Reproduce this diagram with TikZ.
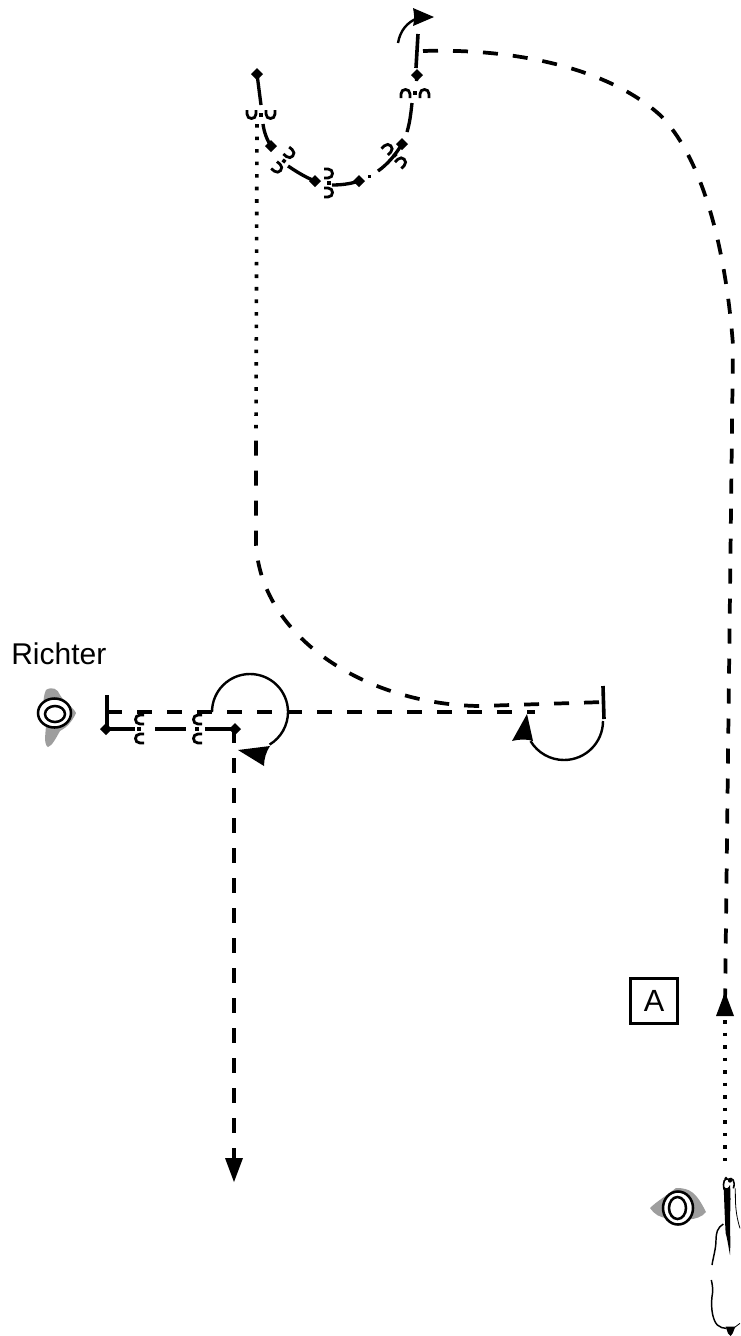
\documentclass[tikz,border=0pt]{standalone}
\usepackage{fontspec}
\setmainfont{Liberation Sans}
\tikzset{
  px/.style={x=0.75pt,y=-0.75pt},
  track/.style={line width=2.5pt,black},
  dashline/.style={line width=2.8pt,black,dash pattern=on 11.25pt off 11.25pt},
  dotline/.style={line width=2.7pt,black,dash pattern=on 2.7pt off 6.7pt},
  turn/.style={line width=1.8pt,black},
  halt/.style={line width=2.7pt,black},
  dia/.pic={\fill[black] (0,-6) -- (6,0) -- (0,6) -- (-6,0) -- cycle;},
  spurs/.pic={
    \draw[line width=2.1pt,black] (5,-14) -- (1,-14) .. controls (-5,-14) and (-5,-5) .. (1,-5) -- (5,-5);
    \draw[line width=2.1pt,black] (5,14) -- (1,14) .. controls (-5,14) and (-5,5) .. (1,5) -- (5,5);
    \fill[black] (-1.8,-1.8) rectangle (1.8,1.8);
  },
  eyering/.style={draw=black,line width=1.9pt,fill=white},
  blob/.style={fill=black!38,draw=none},
  hair/.style={line width=0.6pt,black},
  label/.style={font=\fontsize{22.5}{27}\selectfont,inner sep=0pt},
  boxlabel/.style={font=\fontsize{23}{27}\selectfont,draw=black,line width=2pt,minimum width=35pt,minimum height=34pt,inner sep=0pt},
}
\begin{document}
\begin{tikzpicture}[px]
\useasboundingbox (0,0) rectangle (740,1336);
% named points
\coordinate (s1) at (257,74); \coordinate (s2) at (271,146); \coordinate (s3) at (315,181);
\coordinate (s4) at (359,181); \coordinate (s5) at (402,144); \coordinate (s6) at (417,75);
\coordinate (h1a) at (416,68); \coordinate (h1b) at (418,34);
\coordinate (l1) at (106,729); \coordinate (l2) at (235,729);
% top track
\draw[track] (s1) -- (261,105);
\draw[track] (263,124) .. controls (264,132) and (267,140) .. (s2);
\draw[track] (288,166) .. controls (297,172) and (305,177) .. (s3);
\draw[track] (332,185) .. controls (341,185) and (350,184) .. (s4);
\fill[black] (368,174.5) rectangle (371,177.5);
\draw[track] (378,171) .. controls (388,164) and (396,154) .. (s5);
\draw[track] (407,132) .. controls (410,122) and (411,112) .. (412,103);
\draw[track] (s6) -- (416.5,81);
\draw[halt] (h1a) -- (h1b);
\foreach \p in {s1,s2,s3,s4,s5,s6} \pic at (\p) {dia};
\pic[rotate=90] at (261,115) {spurs};
\pic[rotate=140] at (284,161) {spurs};
\pic[rotate=180] at (329,183) {spurs};
\pic[rotate=-135] at (395,155) {spurs};
\pic[rotate=-90] at (415,93) {spurs};
% top turn arrow
\draw[turn] (398,43) .. controls (400,31) and (407,22) .. (418,18);
\fill[black] (434,17) -- (413,8) .. controls (414,13) and (415,20) .. (413,26) -- cycle;
% right long line
\coordinate (r0) at (423,51); \coordinate (r1) at (660,115); \coordinate (r2) at (733,345); \coordinate (r3) at (725,1005);
\draw[dashline] (r0) .. controls (520,48) and (610,70) .. (r1) .. controls (700,155) and (725,240) .. (r2) -- (r3);
\fill[black] (725,992) -- (734,1016) -- (716,1016) -- cycle;
\draw[dotline] (725,1020) -- (725,1170);
% left long line
\coordinate (c0) at (257,124); \coordinate (c1) at (256,430); \coordinate (c2) at (256,545);
\coordinate (c3) at (480,706); \coordinate (c4) at (604,702);
\draw[dotline] (c0) -- (c1);
\draw[dashline,dash phase=18.75pt] (c4) -- (c3) .. controls (370,705) and (262,640) .. (c2) -- (c1);
% halt right
\coordinate (h2a) at (603,686); \coordinate (h2b) at (604,719);
\draw[halt] (h2a) -- (h2b);
% right small loop
\draw[turn] (603,721) arc[start angle=0,end angle=149,radius=39];
\fill[black] (527,714) -- (512,741) .. controls (520,739) and (527,739) .. (533,741) -- cycle;
% second line: halt, dashed, circle
\coordinate (h3a) at (107,695); \coordinate (h3b) at (107,729);
\coordinate (d0) at (107,712); \coordinate (d1) at (212,712); \coordinate (d3) at (535,712);
\draw[halt] (h3a) -- (h3b);
\draw[dashline] (d0) -- (d3);
\draw[turn] (d1) arc[start angle=180,end angle=419,radius=38];
\fill[black] (238,750) -- (270,746) .. controls (266,752) and (264,759) .. (264,766) -- cycle;
% left track
\draw[track] (l1) -- (135,729);
\draw[track] (155,729) -- (186,729);
\draw[track] (205,729) -- (l2);
\foreach \p in {l1,l2} \pic at (\p) {dia};
\pic at (139,729) {spurs};
\pic at (197,729) {spurs};
% down arrow
\coordinate (e0) at (234,728); \coordinate (e1) at (234,1165);
\draw[dashline] (e0) -- (e1);
\fill[black] (234,1182) -- (225,1158) -- (243,1158) -- cycle;
% rider eye
\fill[blob] (46,690) .. controls (52,686) and (58,689) .. (60,695) .. controls (64,702) and (74,708) .. (76,713)
  .. controls (72,722) and (66,728) .. (60,731) .. controls (56,738) and (52,746) .. (48,747)
  .. controls (43,744) and (46,732) .. (46,724) .. controls (43,714) and (42,698) .. (46,690) -- cycle;
\draw[eyering] (54.5,713) ellipse [x radius=16.5,y radius=14.5];
\draw[eyering] (55,714) ellipse [x radius=10,y radius=8];
\node[label,anchor=base west] (richter) at (11,664) {Richter};
% box A
\node[boxlabel] (boxA) at (654,1001) {A};
% lower eye
\fill[blob] (650,1208) .. controls (656,1202) and (666,1196) .. (676,1188) .. controls (690,1188) and (696,1192) .. (706,1212)
  .. controls (698,1222) and (680,1220) .. (668,1218) .. controls (660,1218) and (654,1214) .. (650,1208) -- cycle;
\draw[eyering] (678,1208) ellipse [x radius=15,y radius=16.5];
\draw[eyering] (677.5,1208) ellipse [x radius=8.5,y radius=11];
% horse seen from above
\begin{scope}[shift={(630,1150)},x=0.25pt,y=-0.25pt]
  \draw[hair,line width=1.2pt] (283,120) .. controls (276,95) and (285,82) .. (295,88) .. controls (305,80) and (318,92) .. (310,115);
  \fill[black] (281,110) .. controls (283,160) and (284,200) .. (287,250) .. controls (292,265) and (296,295) .. (300,315)
     .. controls (302,280) and (300,240) .. (300,200) .. controls (302,160) and (302,130) .. (300,105) .. controls (295,115) and (290,118) .. (281,110) -- cycle;
  \fill[black] (288,85) circle [radius=5];
  \fill[black] (300,92) circle [radius=6];
  \draw[hair] (316,115) .. controls (316,160) and (316,190) .. (330,235);
  \draw[hair,line width=1.1pt] (280,222) .. controls (262,232) and (258,250) .. (258,270) .. controls (258,295) and (250,320) .. (246,345);
  \draw[hair,line width=1.1pt] (244,390) .. controls (248,410) and (250,420) .. (246,440) .. controls (242,475) and (248,510) .. (262,525) .. controls (270,532) and (280,535) .. (288,535);
  \fill[black] (287,530) -- (316,530) -- (308,550) -- (302,558) -- (294,550) -- cycle;
  \draw[hair] (314,532) -- (330,520);
\end{scope}
\end{tikzpicture}
\end{document}
